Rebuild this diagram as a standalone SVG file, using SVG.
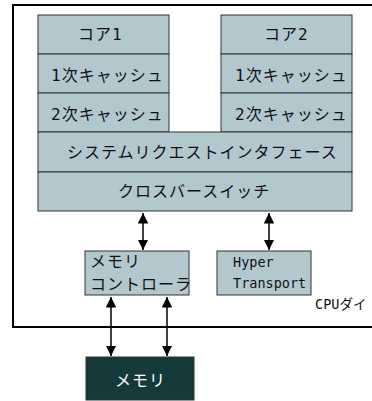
<svg xmlns="http://www.w3.org/2000/svg" width="372" height="401" viewBox="0 0 372 401">
<style>
.blk{fill:#b3c7cf;stroke:#333;stroke-width:1}
.t{font-family:"DejaVu Sans Mono","Noto Sans CJK JP",monospace;font-size:16px;fill:#111;letter-spacing:1px}
.lt{font-family:"DejaVu Sans Mono","Noto Sans CJK JP",monospace;font-size:13.5px;fill:#111}
.w{fill:#fff}
.conn{stroke:#000;stroke-width:1.5;fill:none;marker-start:url(#ah);marker-end:url(#ah)}
</style>
<defs>
<marker id="ah" viewBox="0 0 10 10" refX="10" refY="5" markerWidth="7" markerHeight="7" orient="auto-start-reverse" markerUnits="strokeWidth">
<path d="M0,0 L10,5 L0,10 Z" fill="#000"/>
</marker>
</defs>
<rect width="372" height="401" fill="#fff"/>
<g id="cpu-die">
<rect x="13" y="5" width="400" height="322" fill="none" stroke="#000" stroke-width="2"/>
<text class="lt" x="315" y="309">CPUダイ</text>
</g>
<g id="core1">
<rect class="blk" x="38" y="15" width="131" height="39"/>
<text class="t" x="78" y="40">コア1</text>
</g>
<g id="l1-cache1">
<rect class="blk" x="38" y="54" width="131" height="39"/>
<text class="t" x="51" y="80.5">1次キャッシュ</text>
</g>
<g id="l2-cache1">
<rect class="blk" x="38" y="93" width="131" height="39"/>
<text class="t" x="51" y="119.5">2次キャッシュ</text>
</g>
<g id="core2">
<rect class="blk" x="221" y="15" width="131" height="39"/>
<text class="t" x="264" y="40">コア2</text>
</g>
<g id="l1-cache2">
<rect class="blk" x="221" y="54" width="131" height="39"/>
<text class="t" x="235" y="80.5">1次キャッシュ</text>
</g>
<g id="l2-cache2">
<rect class="blk" x="221" y="93" width="131" height="39"/>
<text class="t" x="235" y="119.5">2次キャッシュ</text>
</g>
<g id="sri">
<rect class="blk" x="38" y="132" width="314" height="40"/>
<text class="t" x="67" y="158">システムリクエストインタフェース</text>
</g>
<g id="crossbar">
<rect class="blk" x="38" y="172" width="314" height="39"/>
<text class="t" x="118" y="197">クロスバースイッチ</text>
</g>
<g id="memctrl">
<rect class="blk" x="85" y="251" width="104" height="44"/>
<text class="t" x="90" y="267">メモリ</text>
<text class="t" x="90" y="289.5">コントローラ</text>
</g>
<g id="hypertransport">
<rect class="blk" x="217" y="251" width="94" height="44"/>
<text class="lt" x="233" y="267">Hyper</text>
<text class="lt" x="233" y="288">Transport</text>
</g>
<g id="memory">
<rect x="86" y="357" width="108" height="43" fill="#163a3a" stroke="#333" stroke-width="1"/>
<text class="t w" x="115" y="386">メモリ</text>
</g>
<g id="connectors">
<line class="conn" x1="143" y1="213" x2="143" y2="250"/>
<line class="conn" x1="269" y1="213" x2="269" y2="250"/>
<line class="conn" x1="111" y1="297" x2="111" y2="356"/>
<line class="conn" x1="167" y1="297" x2="167" y2="356"/>
</g>
</svg>
